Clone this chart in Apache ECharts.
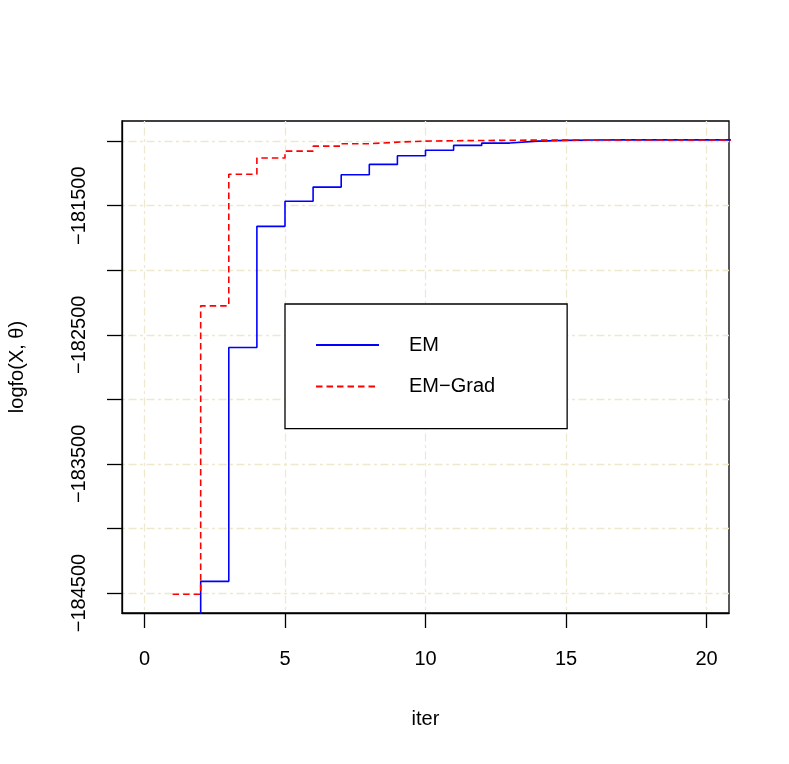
<!DOCTYPE html>
<html><head><meta charset="utf-8">
<script src="https://cdn.jsdelivr.net/npm/echarts@6/dist/echarts.min.js"></script>
<style>html,body{margin:0;padding:0;background:#fff}#c{width:789px;height:764px}</style>
</head><body><div id="c"></div>
<script>
const iterations = [1,2,3,4,5,6,7,8,9,10,11,12,13,14,15,16,17,18,19,20,21,22,23,24,25];
const emValues = [-186000,-184410,-182598,-181660,-181466,-181356,-181260,-181180,-181113,-181070,-181033,-181015,-181000,-180994,-180991,-180990,-180990,-180990,-180990,-180990,-180990,-180990,-180990,-180990,-180990];
const emGradValues = [-184510,-182276,-181257,-181131,-181077,-181039,-181020,-181008,-181000,-180997,-180995,-180993,-180992,-180992,-180991,-180991,-180991,-180991,-180991,-180991,-180991,-180991,-180991,-180991,-180991];
const seriesNames = ['EM', 'EM\u2212Grad'];
const xTickValues = [0,5,10,15,20];
const yTickValues = [-184500,-184000,-183500,-183000,-182500,-182000,-181500,-181000];
const yLabelValues = [-184500,-183500,-182500,-181500];
const xName = 'iter';
const yName = 'logfo(X, \u03b8)';

const FONT = 'Liberation Sans, Arial, Helvetica, sans-serif';
const gridLine = {color:'#EEE8CD', width:1.3, type:[3,3.5,8,3.5]};
const chart = echarts.init(document.getElementById('c'), null, {renderer:'canvas'});
chart.setOption({
  animation:false,
  backgroundColor:'#fff',
  textStyle:{fontFamily:FONT},
  grid:{left:122, right:60, top:121, bottom:151, show:true, borderColor:'#000', borderWidth:1.3,
        containLabel:false, outerBoundsMode:'none'},
  legend:{
    data:seriesNames, orient:'vertical', left:285, top:304,
    padding:[30,72,31,30], itemGap:19.6, itemWidth:63, itemHeight:14,
    backgroundColor:'#fff', borderColor:'#000', borderWidth:1.3, borderRadius:0,
    itemStyle:{opacity:0, borderWidth:0},
    textStyle:{fontSize:20, color:'#000', fontFamily:FONT, lineHeight:22, padding:[0,0,0,25]}
  },
  xAxis:{
    type:'value', min:-0.8, max:20.8,
    name:xName, nameLocation:'middle', nameGap:96,
    nameTextStyle:{fontSize:20, color:'#000', fontFamily:FONT},
    axisLine:{show:true, onZero:false, lineStyle:{color:'#000', width:1.3}},
    axisTick:{show:true, length:15, customValues:xTickValues, lineStyle:{color:'#000', width:1.3}},
    axisLabel:{show:true, margin:36, customValues:xTickValues, fontSize:20, color:'#000', fontFamily:FONT},
    splitLine:{show:true, lineStyle:gridLine}
  },
  yAxis:{
    type:'value', min:-184655, max:-180844,
    name:yName, nameLocation:'middle', nameGap:95, nameRotate:90,
    nameTextStyle:{fontSize:20, color:'#000', fontFamily:FONT},
    axisLine:{show:true, onZero:false, lineStyle:{color:'#000', width:1.3}},
    axisTick:{show:true, length:15, customValues:yTickValues, lineStyle:{color:'#000', width:1.3}},
    axisLabel:{show:true, rotate:90, margin:33, customValues:yLabelValues, fontSize:20, color:'#000', fontFamily:FONT,
      formatter:v => String(v).replace('-', '\u2212')},
    splitLine:{show:true, lineStyle:gridLine}
  },
  series:[
    {name:seriesNames[0], type:'line', step:'end', symbol:'none', clip:true,
     data:iterations.map((x,i)=>[x, emValues[i]]),
     lineStyle:{color:'#0000FF', width:1.6, type:'solid'}, itemStyle:{color:'#0000FF'}},
    {name:seriesNames[1], type:'line', step:'end', symbol:'none', clip:true,
     data:iterations.map((x,i)=>[x, emGradValues[i]]),
     lineStyle:{color:'#FF0000', width:1.6, type:[6.5,4]}, itemStyle:{color:'#FF0000'}}
  ]
});
</script></body></html>
